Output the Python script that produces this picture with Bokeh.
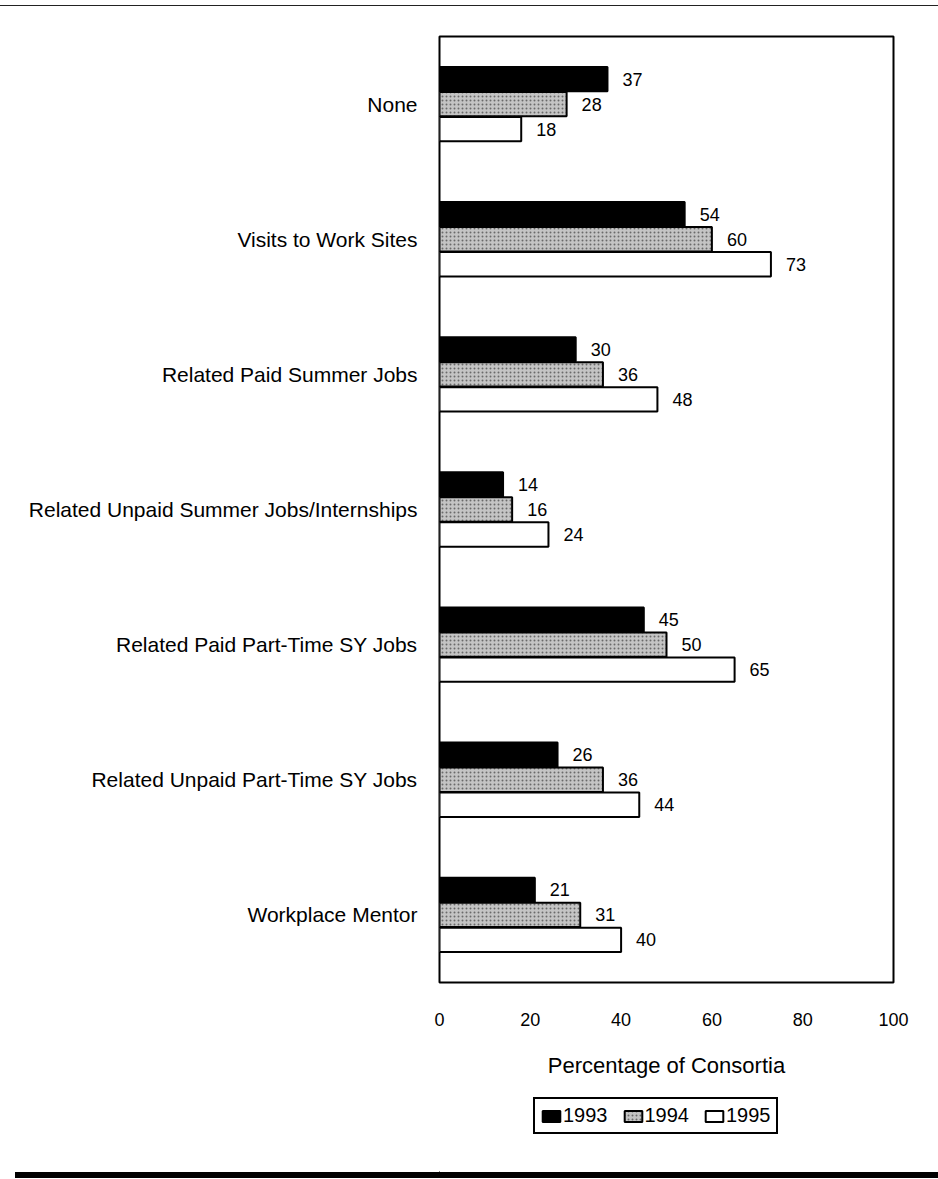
from bokeh.plotting import figure
from bokeh.models import (ColumnDataSource, FactorRange, Range1d, Legend, LegendItem,
                          FixedTicker, Div)
from bokeh.layouts import column
from bokeh.transform import dodge
from bokeh.core.properties import value
from bokeh.embed import file_html
from bokeh.resources import INLINE

categories = ["None", "Visits to Work Sites", "Related Paid Summer Jobs",
              "Related Unpaid Summer Jobs/Internships", "Related Paid Part-Time SY Jobs",
              "Related Unpaid Part-Time SY Jobs", "Workplace Mentor"]
v1993 = [37, 54, 30, 14, 45, 26, 21]
v1994 = [28, 60, 36, 16, 50, 36, 31]
v1995 = [18, 73, 48, 24, 65, 44, 40]
years = ["1993", "1994", "1995"]
x_ticks = [0, 20, 40, 60, 80, 100]

FONT = "Liberation Sans"

BAR_STYLES = [
    dict(fill_color="black", line_color="black", line_width=2),
    dict(fill_color="#c4c4c4", line_color="black", line_width=2,
         hatch_pattern="dot", hatch_color="#6a6a6a", hatch_scale=4, hatch_weight=1),
    dict(fill_color="white", line_color="black", line_width=2),
]

src = ColumnDataSource(dict(cat=categories, v1993=v1993, v1994=v1994, v1995=v1995,
                            l1993=[str(v) for v in v1993],
                            l1994=[str(v) for v in v1994],
                            l1995=[str(v) for v in v1995]))

p = figure(width=938, height=1079, output_backend="svg", toolbar_location=None,
           y_range=FactorRange(factors=list(reversed(categories))),
           x_range=Range1d(0, 100),
           min_border_left=439, min_border_right=45, min_border_top=30, min_border_bottom=103)

p.background_fill_color = "white"
p.border_fill_color = "white"
p.outline_line_color = "black"
p.outline_line_width = 2
p.xgrid.visible = False
p.ygrid.visible = False

off = 0.185
h = 0.18
offsets = [off, 0, -off]
cols = ["v1993", "v1994", "v1995"]
labs = ["l1993", "l1994", "l1995"]
for col, o, st in zip(cols, offsets, BAR_STYLES):
    p.hbar(y=dodge("cat", o, range=p.y_range), right=col, left=0, height=h, source=src, **st)

for col, lab, o in zip(cols, labs, offsets):
    p.text(x=col, y=dodge("cat", o, range=p.y_range), text=lab, source=src,
           x_offset=15, text_align="left", text_baseline="middle",
           text_font=value(FONT), text_font_size="18px", text_color="black")

# y axis
ya = p.yaxis[0]
ya.axis_line_color = None
ya.major_tick_line_color = None
ya.minor_tick_line_color = None
ya.major_label_standoff = 16
ya.major_label_text_font = FONT
ya.major_label_text_font_size = "21px"
ya.major_label_text_color = "black"

# x axis
xa = p.xaxis[0]
xa.ticker = FixedTicker(ticks=x_ticks)
xa.axis_line_color = None
xa.major_tick_line_color = None
xa.minor_tick_line_color = None
xa.major_label_standoff = 24
xa.major_label_text_font = FONT
xa.major_label_text_font_size = "18px"
xa.major_label_text_color = "black"
xa.axis_label = "Percentage of Consortia"
xa.axis_label_text_font = FONT
xa.axis_label_text_font_size = "22px"
xa.axis_label_text_font_style = "normal"
xa.axis_label_text_color = "black"
xa.axis_label_standoff = 24

# legend in its own strip below the chart (its frame aligns with the chart's frame)
lg = figure(width=938, height=87, output_backend="svg", toolbar_location=None,
            x_range=Range1d(0, 1), y_range=Range1d(0, 1), min_border=0)
lg.axis.visible = False
lg.grid.visible = False
lg.outline_line_color = None
lg.background_fill_color = "white"
lg.border_fill_color = "white"
items = []
for yr, st in zip(years, BAR_STYLES):
    # swatch renderers sit far outside the canvas; only their legend glyphs show
    r = lg.hbar(y=[-10], right=[-99], left=-100, height=0.1, **st)
    items.append(LegendItem(label=yr, renderers=[r]))

legend = Legend(items=items, orientation="horizontal", location=(94, 38),
                label_text_font=FONT, label_text_font_size="20px", label_text_color="black",
                glyph_width=22, glyph_height=14, label_standoff=1, spacing=14,
                padding=5, margin=0, border_line_color="black", border_line_width=2,
                border_line_alpha=1, background_fill_alpha=1, background_fill_color="white",
                label_height=20)
lg.add_layout(legend, "center")

top_rule = Div(text="", width=938, height=1, margin=(5, 0, 0, 0),
               styles={"background-color": "#222222"})
bottom_rule = Div(text="", width=923, height=6, margin=(0, 0, 0, 15),
                  styles={"background-color": "black"})

layout = column(top_rule, p, lg, bottom_rule, spacing=0)

out = file_html(layout, INLINE)
open("out.html", "w").write(out)
